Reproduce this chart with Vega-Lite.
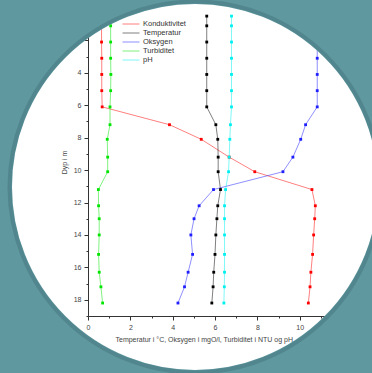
{
  "$schema": "https://vega.github.io/schema/vega-lite/v6.json",
  "width": 254,
  "height": 308,
  "autosize": {"type": "none"},
  "padding": {"left": 88, "top": 8, "right": 30, "bottom": 57},
  "background": "#ffffff",
  "config": {"view": {"stroke": null}, "font": "Liberation Sans", "axis": {"labelOverlap": false}},
  "datasets": {
    "profile": [
      {"serie": "Konduktivitet", "depth": 0.5, "value": 0.64},
      {"serie": "Konduktivitet", "depth": 1.1, "value": 0.64},
      {"serie": "Konduktivitet", "depth": 2.1, "value": 0.64},
      {"serie": "Konduktivitet", "depth": 3.1, "value": 0.65},
      {"serie": "Konduktivitet", "depth": 4.1, "value": 0.65},
      {"serie": "Konduktivitet", "depth": 5.1, "value": 0.65},
      {"serie": "Konduktivitet", "depth": 6.1, "value": 0.67},
      {"serie": "Konduktivitet", "depth": 7.2, "value": 3.85},
      {"serie": "Konduktivitet", "depth": 8.1, "value": 5.35},
      {"serie": "Konduktivitet", "depth": 9.2, "value": 6.67},
      {"serie": "Konduktivitet", "depth": 10.1, "value": 7.88},
      {"serie": "Konduktivitet", "depth": 11.2, "value": 10.58},
      {"serie": "Konduktivitet", "depth": 12.2, "value": 10.74},
      {"serie": "Konduktivitet", "depth": 13.0, "value": 10.71},
      {"serie": "Konduktivitet", "depth": 14.0, "value": 10.66},
      {"serie": "Konduktivitet", "depth": 15.2, "value": 10.61},
      {"serie": "Konduktivitet", "depth": 16.3, "value": 10.53},
      {"serie": "Konduktivitet", "depth": 17.2, "value": 10.49},
      {"serie": "Konduktivitet", "depth": 18.2, "value": 10.41},
      {"serie": "Temperatur", "depth": 0.5, "value": 5.61},
      {"serie": "Temperatur", "depth": 1.1, "value": 5.61},
      {"serie": "Temperatur", "depth": 2.1, "value": 5.61},
      {"serie": "Temperatur", "depth": 3.1, "value": 5.61},
      {"serie": "Temperatur", "depth": 4.1, "value": 5.61},
      {"serie": "Temperatur", "depth": 5.1, "value": 5.61},
      {"serie": "Temperatur", "depth": 6.1, "value": 5.61},
      {"serie": "Temperatur", "depth": 7.2, "value": 6.04},
      {"serie": "Temperatur", "depth": 8.1, "value": 6.13},
      {"serie": "Temperatur", "depth": 9.2, "value": 6.15},
      {"serie": "Temperatur", "depth": 10.1, "value": 6.15},
      {"serie": "Temperatur", "depth": 11.2, "value": 6.26},
      {"serie": "Temperatur", "depth": 12.2, "value": 6.13},
      {"serie": "Temperatur", "depth": 13.0, "value": 6.09},
      {"serie": "Temperatur", "depth": 14.0, "value": 6.04},
      {"serie": "Temperatur", "depth": 15.2, "value": 6.0},
      {"serie": "Temperatur", "depth": 16.3, "value": 5.94},
      {"serie": "Temperatur", "depth": 17.2, "value": 5.91},
      {"serie": "Temperatur", "depth": 18.2, "value": 5.85},
      {"serie": "Oksygen", "depth": 0.5, "value": 10.83},
      {"serie": "Oksygen", "depth": 1.1, "value": 10.83},
      {"serie": "Oksygen", "depth": 2.1, "value": 10.83},
      {"serie": "Oksygen", "depth": 3.1, "value": 10.83},
      {"serie": "Oksygen", "depth": 4.1, "value": 10.83},
      {"serie": "Oksygen", "depth": 5.1, "value": 10.83},
      {"serie": "Oksygen", "depth": 6.1, "value": 10.83},
      {"serie": "Oksygen", "depth": 7.2, "value": 10.28},
      {"serie": "Oksygen", "depth": 8.1, "value": 10.05},
      {"serie": "Oksygen", "depth": 9.2, "value": 9.68},
      {"serie": "Oksygen", "depth": 10.1, "value": 9.21},
      {"serie": "Oksygen", "depth": 11.2, "value": 5.93},
      {"serie": "Oksygen", "depth": 12.2, "value": 5.25},
      {"serie": "Oksygen", "depth": 13.0, "value": 5.01},
      {"serie": "Oksygen", "depth": 14.0, "value": 4.86},
      {"serie": "Oksygen", "depth": 15.2, "value": 4.94},
      {"serie": "Oksygen", "depth": 16.3, "value": 4.73},
      {"serie": "Oksygen", "depth": 17.2, "value": 4.56},
      {"serie": "Oksygen", "depth": 18.2, "value": 4.25},
      {"serie": "Turbiditet", "depth": 0.5, "value": 1.07},
      {"serie": "Turbiditet", "depth": 1.1, "value": 1.07},
      {"serie": "Turbiditet", "depth": 2.1, "value": 1.07},
      {"serie": "Turbiditet", "depth": 3.1, "value": 1.07},
      {"serie": "Turbiditet", "depth": 4.1, "value": 1.08},
      {"serie": "Turbiditet", "depth": 5.1, "value": 1.07},
      {"serie": "Turbiditet", "depth": 6.1, "value": 1.04},
      {"serie": "Turbiditet", "depth": 7.2, "value": 1.04},
      {"serie": "Turbiditet", "depth": 8.1, "value": 0.91},
      {"serie": "Turbiditet", "depth": 9.2, "value": 0.93},
      {"serie": "Turbiditet", "depth": 10.1, "value": 0.93},
      {"serie": "Turbiditet", "depth": 11.2, "value": 0.49},
      {"serie": "Turbiditet", "depth": 12.2, "value": 0.5},
      {"serie": "Turbiditet", "depth": 13.0, "value": 0.53},
      {"serie": "Turbiditet", "depth": 14.0, "value": 0.53},
      {"serie": "Turbiditet", "depth": 15.2, "value": 0.5},
      {"serie": "Turbiditet", "depth": 16.3, "value": 0.53},
      {"serie": "Turbiditet", "depth": 17.2, "value": 0.61},
      {"serie": "Turbiditet", "depth": 18.2, "value": 0.69},
      {"serie": "pH", "depth": 0.5, "value": 6.78},
      {"serie": "pH", "depth": 1.1, "value": 6.78},
      {"serie": "pH", "depth": 2.1, "value": 6.78},
      {"serie": "pH", "depth": 3.1, "value": 6.78},
      {"serie": "pH", "depth": 4.1, "value": 6.78},
      {"serie": "pH", "depth": 5.1, "value": 6.78},
      {"serie": "pH", "depth": 6.1, "value": 6.78},
      {"serie": "pH", "depth": 7.2, "value": 6.73},
      {"serie": "pH", "depth": 8.1, "value": 6.7},
      {"serie": "pH", "depth": 9.2, "value": 6.67},
      {"serie": "pH", "depth": 10.1, "value": 6.64},
      {"serie": "pH", "depth": 11.2, "value": 6.5},
      {"serie": "pH", "depth": 12.2, "value": 6.45},
      {"serie": "pH", "depth": 13.0, "value": 6.45},
      {"serie": "pH", "depth": 14.0, "value": 6.45},
      {"serie": "pH", "depth": 15.2, "value": 6.45},
      {"serie": "pH", "depth": 16.3, "value": 6.45},
      {"serie": "pH", "depth": 17.2, "value": 6.44},
      {"serie": "pH", "depth": 18.2, "value": 6.42}
    ],
    "frame": [{"value": 5.055, "depth": 11.04}]
  },
  "layer": [
    {
      "data": {"name": "profile"},
      "mark": {"type": "line", "strokeWidth": 1, "opacity": 0.5},
      "encoding": {
        "x": {
          "field": "value", "type": "quantitative",
          "scale": {"domain": [0, 12], "nice": false, "zero": false},
          "axis": {
            "values": [0, 1, 2, 3, 4, 5, 6, 7, 8, 9, 10, 11, 12],
            "tickCount": 100, "format": "d",
            "labelOverlap": false, "labelFlush": false,
            "labelColor": {"condition": {"test": "datum.value % 2 !== 0", "value": "transparent"}, "value": "#444444"},
            "tickSize": {"condition": {"test": "datum.value % 2 === 0", "value": 4}, "value": 2},
            "grid": false,
            "domainColor": "#333333", "tickColor": "#333333",
            "labelFontSize": 7, "labelPadding": 3,
            "title": "Temperatur i °C, Oksygen i mgO/l, Turbiditet i NTU og pH",
            "titleFontSize": 7, "titleFontWeight": "normal", "titleColor": "#444444",
            "titleAnchor": "start", "titleX": 27, "titleY": 23, "titleBaseline": "middle"
          }
        },
        "y": {
          "field": "depth", "type": "quantitative",
          "scale": {"domain": [0, 19], "nice": false, "zero": false, "reverse": true},
          "axis": {
            "values": [0, 1, 2, 3, 4, 5, 6, 7, 8, 9, 10, 11, 12, 13, 14, 15, 16, 17, 18, 19],
            "tickCount": 100, "format": "d",
            "labelOverlap": false, "labelFlush": false,
            "labelColor": {"condition": {"test": "datum.value % 2 !== 0", "value": "transparent"}, "value": "#444444"},
            "tickSize": {"condition": {"test": "datum.value % 2 === 0", "value": 4}, "value": 2},
            "grid": false,
            "domainColor": "#333333", "tickColor": "#333333",
            "labelFontSize": 7, "labelPadding": 3,
            "title": "Dyp i m",
            "titleFontSize": 7, "titleFontWeight": "normal", "titleColor": "#444444",
            "titleX": -24, "titleY": 154, "titleBaseline": "middle", "titleAngle": 270
          }
        },
        "color": {
          "field": "serie", "type": "nominal",
          "scale": {
            "domain": ["Konduktivitet", "Temperatur", "Oksygen", "Turbiditet", "pH"],
            "range": ["#ff0000", "#000000", "#2020ff", "#00e600", "#00f0f0"]
          },
          "legend": {
            "title": null, "orient": "none", "legendX": 38, "legendY": 11,
            "symbolType": "M-2,0H2", "symbolSize": 72, "symbolStrokeWidth": 1,
            "labelFontSize": 7.5, "labelColor": "#333333", "labelOffset": 7,
            "rowPadding": 0, "padding": 0
          }
        },
        "order": {"field": "depth", "type": "quantitative"}
      }
    },
    {
      "data": {"name": "profile"},
      "mark": {"type": "point", "shape": "square", "filled": true, "size": 8, "opacity": 1},
      "encoding": {
        "x": {"field": "value", "type": "quantitative"},
        "y": {"field": "depth", "type": "quantitative"},
        "color": {"field": "serie", "type": "nominal"}
      }
    },
    {
      "data": {"name": "frame"},
      "mark": {"type": "point", "shape": "circle", "filled": false, "size": 320356, "stroke": "#6098a0", "strokeWidth": 200, "opacity": 1},
      "encoding": {
        "x": {"field": "value", "type": "quantitative"},
        "y": {"field": "depth", "type": "quantitative"}
      }
    },
    {
      "data": {"name": "frame"},
      "mark": {"type": "point", "shape": "circle", "filled": false, "size": 137641, "stroke": "#1f4a50", "strokeWidth": 4, "opacity": 0.22},
      "encoding": {
        "x": {"field": "value", "type": "quantitative"},
        "y": {"field": "depth", "type": "quantitative"}
      }
    }
  ]
}
